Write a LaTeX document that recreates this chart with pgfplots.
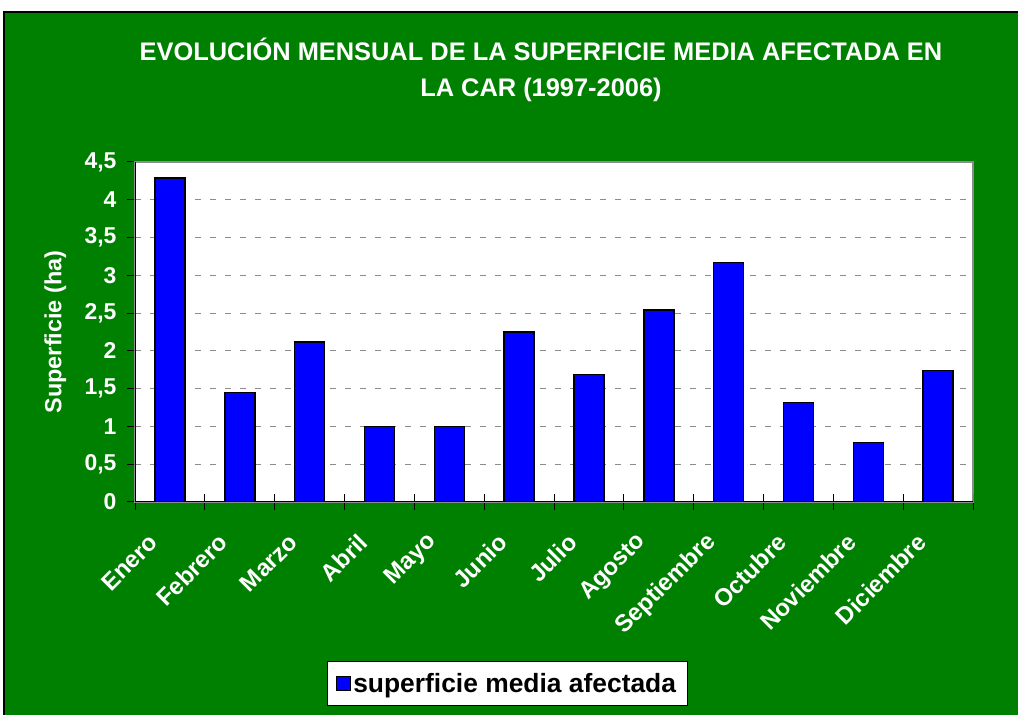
\documentclass[border=0pt]{standalone}
\usepackage{fontspec}
\setmainfont{Liberation Sans}
\usepackage{pgfplots}
\pgfplotsset{compat=1.18}
\definecolor{bggreen}{RGB}{0,128,0}
\definecolor{barblue}{RGB}{0,0,255}
\definecolor{gridgray}{RGB}{140,140,140}
\begin{document}
\begin{tikzpicture}[x=1bp,y=1bp]
\fill[white] (0,0) rectangle (1018,715);
\useasboundingbox (0,0) rectangle (1018,715);
\fill[bggreen] (4,0) rectangle (1018,703);
\draw[black, line width=1.5bp] (4,0) -- (4,703) -- (1018,703);
\node[text=white, font=\fontsize{25.5}{36}\selectfont\bfseries, align=center] at (541,645)
  {EVOLUCIÓN MENSUAL DE LA SUPERFICIE MEDIA AFECTADA EN\\LA CAR (1997-2006)};
\begin{axis}[
  at={(135bp,213bp)}, anchor=south west,
  scale only axis, width=838bp, height=340bp,
  xmin=-0.5, xmax=11.5, ymin=0, ymax=4.5,
  axis background/.style={fill=white},
  axis line style={draw=gridgray, line width=1.5bp},
  ybar, bar width=30bp,
  ytick={0,0.5,1,1.5,2,2.5,3,3.5,4,4.5},
  yticklabels={0,{0,5},1,{1,5},2,{2,5},3,{3,5},4,{4,5}},
  ymajorgrids, grid style={gridgray, dash pattern=on 6bp off 9bp, line width=1bp},
  xtick={-0.5,0.5,1.5,2.5,3.5,4.5,5.5,6.5,7.5,8.5,9.5,10.5,11.5},
  xticklabels={},
  extra x ticks={0,1,2,3,4,5,6,7,8,9,10,11},
  extra x tick labels={Enero,Febrero,Marzo,Abril,Mayo,Junio,Julio,Agosto,Septiembre,Octubre,Noviembre,Diciembre},
  extra x tick style={grid=none, tick style={draw=none}},
  tick align=outside, major tick length=8bp,
  tick style={draw=black, line width=1bp},
  tick pos=left,
  y tick label style={text=white, font=\fontsize{23}{26}\selectfont\bfseries, xshift=-7bp},
  x tick label style={text=white, font=\fontsize{24}{26}\selectfont\bfseries, xshift=-14bp, yshift=-26bp, rotate=45, anchor=east},
  ylabel={Superficie (ha)},
  ylabel style={text=white, font=\fontsize{23.5}{26}\selectfont\bfseries, at={(axis description cs:-0.095,0.5)}, anchor=center},
  legend style={at={(0.444,-0.534)}, anchor=center, draw=black, fill=white, line width=1bp,
    font=\fontsize{26.5}{30}\selectfont\bfseries, inner xsep=9bp, inner ysep=10bp},
  legend image code/.code={\draw[fill=barblue, draw=black, line width=1.2bp] (0bp,-7bp) rectangle (14bp,7bp);},
]
\addplot[fill=barblue, draw=black, line width=1.5bp] coordinates {
  (0,4.29) (1,1.45) (2,2.12) (3,1.0) (4,1.0) (5,2.25)
  (6,1.69) (7,2.54) (8,3.17) (9,1.32) (10,0.79) (11,1.74)
};
\legend{superficie media afectada}
\pgfplotsinvokeforeach{-0.5,0.5,1.5,2.5,3.5,4.5,5.5,6.5,7.5,8.5,9.5,10.5,11.5}{
  \draw[black, line width=1bp] (axis cs:#1,0) -- ++(0bp,8bp);
}
\draw[black, line width=1.5bp] (rel axis cs:0,1) -- (rel axis cs:0,0) -- (rel axis cs:1,0);
\end{axis}
\end{tikzpicture}
\end{document}
